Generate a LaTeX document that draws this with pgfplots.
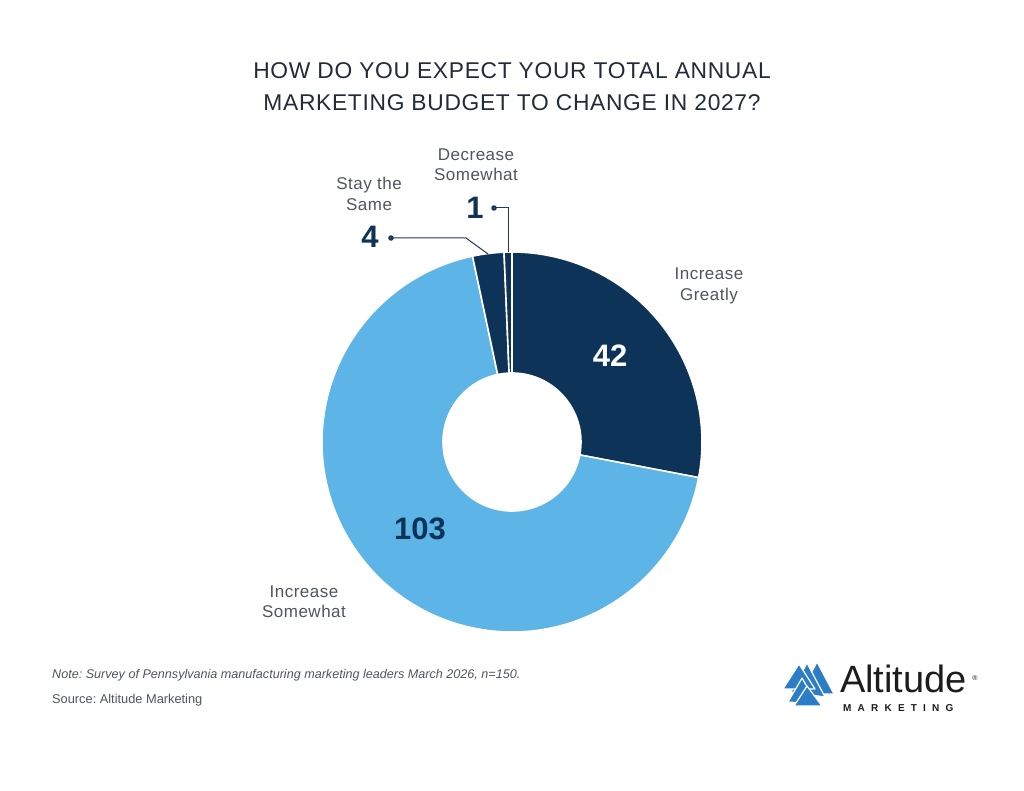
\documentclass[border=0pt]{standalone}
\usepackage{pgfplots}
\pgfplotsset{compat=1.18}
\usepackage{fontspec}
\setmainfont{Liberation Sans}
\frenchspacing
\definecolor{navy}{HTML}{0E3358}
\definecolor{lightblue}{HTML}{5DB4E6}
\definecolor{titlec}{HTML}{232B38}
\definecolor{labelc}{HTML}{50565E}
\definecolor{leader}{HTML}{1E3A5F}
\definecolor{logoblue}{HTML}{2A7DC6}
\definecolor{logotext}{HTML}{1C1C1C}
% data: Increase Greatly, Increase Somewhat, Stay the Same, Decrease Somewhat
\def\vA{42}\def\vB{103}\def\vC{4}\def\vD{1}
\pgfmathsetmacro\total{\vA+\vB+\vC+\vD}
\pgfmathsetmacro\unitang{360/\total}
\pgfmathsetmacro\aA{90}
\pgfmathsetmacro\aB{\aA-\unitang*\vA}
\pgfmathsetmacro\aC{\aB-\unitang*\vB}
\pgfmathsetmacro\aD{\aC-\unitang*\vC}
\pgfmathsetmacro\aE{\aD-\unitang*\vD}
\newcommand\slice[3]{%
  \filldraw[fill=#1, draw=white, line width=1.6pt, line join=miter]
   (axis cs:512,348) ++(#2:190pt) arc[start angle=#2, end angle=#3, radius=190pt]
   -- ([shift={(#3:69pt)}]axis cs:512,348) arc[start angle=#3, end angle=#2, radius=69pt] -- cycle;}
\begin{document}
\begin{tikzpicture}
\begin{axis}[width=1024pt,height=790pt,scale only axis,
  xmin=0,xmax=1024,ymin=0,ymax=790,hide axis,clip=false]
\fill[white] (axis cs:0,0) rectangle (axis cs:1024,790);
% title
\node[anchor=base,text=titlec,font=\fontsize{22.8}{28}\selectfont\addfontfeature{LetterSpace=3}] at (axis cs:512,711) {HOW DO YOU EXPECT YOUR TOTAL ANNUAL};
\node[anchor=base,text=titlec,font=\fontsize{22.8}{28}\selectfont\addfontfeature{LetterSpace=3}] at (axis cs:512,679) {MARKETING BUDGET TO CHANGE IN 2027?};
% donut
\slice{navy}{\aA}{\aB}
\slice{lightblue}{\aB}{\aC}
\slice{navy}{\aC}{\aD}
\slice{navy}{\aD}{\aE}
% value labels
\node[anchor=base,text=white,font=\fontsize{31}{36}\selectfont\bfseries] at (axis cs:610,423) {42};
\node[anchor=base,text=navy,font=\fontsize{31}{36}\selectfont\bfseries] at (axis cs:420,251) {103};
\node[anchor=base,text=navy,font=\fontsize{31}{36}\selectfont\bfseries] at (axis cs:370,542) {4};
\node[anchor=base,text=navy,font=\fontsize{31}{36}\selectfont\bfseries] at (axis cs:475,571) {1};
% leaders
\draw[leader,line width=1pt] (axis cs:391,552) -- (axis cs:466,552) -- (axis cs:488,536);
\fill[leader] (axis cs:391,552) circle[radius=2.8pt];
\draw[leader,line width=1pt] (axis cs:494,582) -- (axis cs:508,582) -- (axis cs:508,538);
\fill[leader] (axis cs:494,582) circle[radius=2.8pt];
% category labels
\tikzset{lab/.style={anchor=base,text=labelc,font=\fontsize{17}{20}\selectfont\addfontfeature{LetterSpace=3}}}
\node[lab] at (axis cs:709,510) {Increase};
\node[lab] at (axis cs:709,489) {Greatly};
\node[lab] at (axis cs:304,193) {Increase};
\node[lab] at (axis cs:304,173) {Somewhat};
\node[lab] at (axis cs:369,600) {Stay the};
\node[lab] at (axis cs:369,579) {Same};
\node[lab] at (axis cs:476,629) {Decrease};
\node[lab] at (axis cs:476,609) {Somewhat};
% footnotes
\node[anchor=base west,text=labelc,font=\fontsize{12.6}{16}\selectfont\itshape,inner sep=0pt] at (axis cs:52,112) {Note: Survey of Pennsylvania manufacturing marketing leaders March 2026, n=150.};
\node[anchor=base west,text=labelc,font=\fontsize{12.8}{16}\selectfont,inner sep=0pt] at (axis cs:52,87) {Source: Altitude Marketing};
% logo
\begin{scope}[draw=white,line width=1.2pt,line join=round]
\filldraw[fill=logoblue] (axis cs:800,96) -- (axis cs:817,128) -- (axis cs:834,96) -- cycle;
\filldraw[fill=logoblue] (axis cs:791,98) -- (axis cs:807,127) -- (axis cs:825,93) -- cycle;
\filldraw[fill=logoblue] (axis cs:783,101) -- (axis cs:799,126) -- (axis cs:815,101) -- cycle;
\filldraw[fill=logoblue] (axis cs:788,88) -- (axis cs:802,112) -- (axis cs:817,86) -- cycle;
\filldraw[fill=logoblue] (axis cs:794,84) -- (axis cs:807,104) -- (axis cs:822,84) -- cycle;
\end{scope}
\node[anchor=base west,inner sep=0pt,text=logotext,font=\fontsize{38}{40}\selectfont] at (axis cs:840,98) {Altitude};
\node[anchor=base west,inner sep=0pt,text=logotext,font=\fontsize{10}{12}\selectfont\bfseries\addfontfeature{LetterSpace=62}] at (axis cs:843,79) {MARKETING};
\node[anchor=center,inner sep=0pt,text=logotext,font=\fontsize{7}{8}\selectfont] at (axis cs:975,112) {\textregistered};
\end{axis}
\end{tikzpicture}
\end{document}
